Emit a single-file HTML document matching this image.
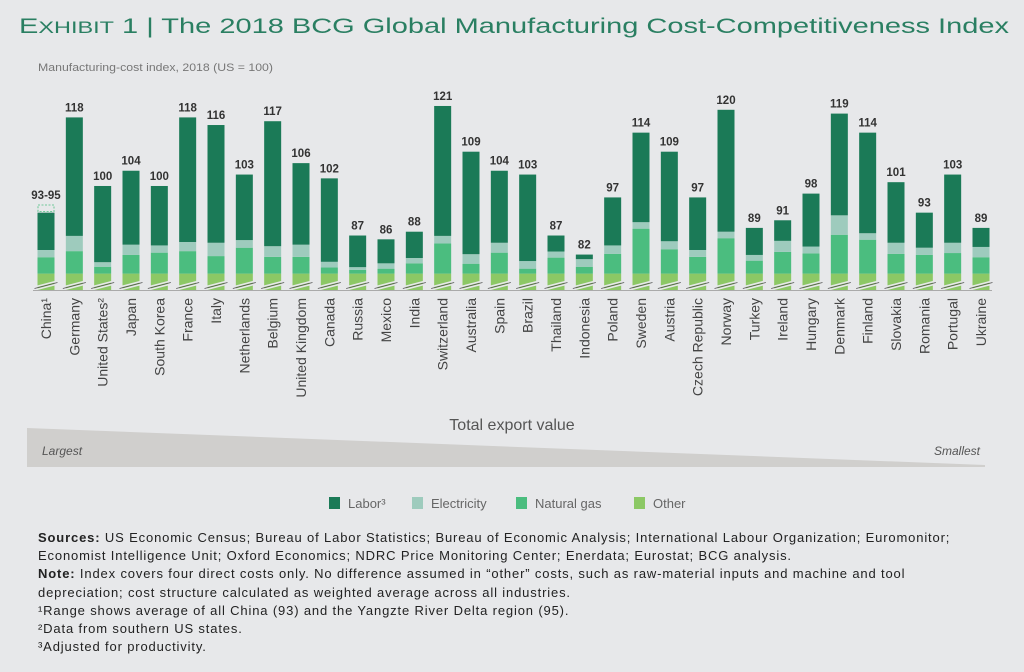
<!DOCTYPE html>
<html><head><meta charset="utf-8">
<style>
html,body{margin:0;padding:0;background:#e7e8ea;}
body{width:1024px;height:672px;overflow:hidden;font-family:"Liberation Sans",sans-serif;}
svg{display:block;}
.notes{position:absolute;left:38px;top:529px;width:980px;white-space:nowrap;font-size:13px;letter-spacing:0.85px;line-height:18.2px;color:#222;}
.notes b{font-weight:bold;}
</style></head>
<body>
<svg id="chart" width="1024" height="672" viewBox="0 0 1024 672" xmlns="http://www.w3.org/2000/svg">
<text x="19" y="33" font-size="21" fill="#2a7f62" textLength="990" lengthAdjust="spacingAndGlyphs" font-family="Liberation Sans, sans-serif">E<tspan font-size="17">XHIBIT</tspan> 1 | The 2018 BCG Global Manufacturing Cost-Competitiveness Index</text>
<text x="38" y="71" font-size="11" fill="#777" textLength="235" lengthAdjust="spacingAndGlyphs">Manufacturing-cost index, 2018 (US = 100)</text>
<g id="bars"></g>
<line x1="33" y1="290.5" x2="992" y2="290.5" stroke="#aaa" stroke-width="1"/>
<text x="512" y="430" font-size="16" fill="#555" text-anchor="middle">Total export value</text>
<polygon points="27,428 985,465 985,467 27,467" fill="#d0cfcd"/>
<text x="42" y="455" font-size="12" font-style="italic" fill="#555">Largest</text>
<text x="980" y="455" font-size="12" font-style="italic" fill="#555" text-anchor="end">Smallest</text>
<g font-size="13" fill="#666">
<rect x="329" y="497" width="11" height="12" fill="#1b7a57"/>
<text x="348" y="508">Labor³</text>
<rect x="412" y="497" width="11" height="12" fill="#9ecbbd"/>
<text x="431" y="508">Electricity</text>
<rect x="516" y="497" width="11" height="12" fill="#4bbd7f"/>
<text x="535" y="508">Natural gas</text>
<rect x="634" y="497" width="11" height="12" fill="#8cc865"/>
<text x="653" y="508">Other</text>
</g>
</svg>
<div class="notes">
<b>Sources:</b> US Economic Census; Bureau of Labor Statistics; Bureau of Economic Analysis; International Labour Organization; Euromonitor;<br>
Economist Intelligence Unit; Oxford Economics; NDRC Price Monitoring Center; Enerdata; Eurostat; BCG analysis.<br>
<b>Note:</b> Index covers four direct costs only. No difference assumed in “other” costs, such as raw-material inputs and machine and tool<br>
depreciation; cost structure calculated as weighted average across all industries.<br>
¹Range shows average of all China (93) and the Yangzte River Delta region (95).<br>
²Data from southern US states.<br>
³Adjusted for productivity.
</div>
<script>
const categories = ["China¹","Germany","United States²","Japan","South Korea","France","Italy","Netherlands","Belgium","United Kingdom","Canada","Russia","Mexico","India","Switzerland","Australia","Spain","Brazil","Thailand","Indonesia","Poland","Sweden","Austria","Czech Republic","Norway","Turkey","Ireland","Hungary","Denmark","Finland","Slovakia","Romania","Portugal","Ukraine"];
const totals = [93,118,100,104,100,118,116,103,117,106,102,87,86,88,121,109,104,103,87,82,97,114,109,97,120,89,91,98,119,114,101,93,103,89];
const totalLabels = ["93-95","118","100","104","100","118","116","103","117","106","102","87","86","88","121","109","104","103","87","82","97","114","109","97","120","89","91","98","119","114","101","93","103","89"];
const other = [77,77,77,77,77,77,77,77,77,77,77,77,77,77,77,77,77,77,77,77,77,77,77,77,77,77,77,77,77,77,77,77,77,77];
const gas = [4.3,5.9,1.8,4.9,5.5,5.9,4.6,6.8,4.4,4.4,1.6,1.0,1.3,2.7,7.9,2.6,5.5,1.3,4.2,1.8,5.2,11.8,6.4,4.4,9.3,3.4,5.7,5.3,10.2,8.9,5.2,4.9,5.4,4.3];
const electricity = [1.9,4.0,1.2,2.7,1.9,2.4,3.5,2.0,2.8,3.2,1.5,0.7,1.4,1.4,2.0,2.5,2.6,2.0,1.6,2.0,2.2,1.7,2.1,1.8,1.7,1.5,2.9,1.8,5.1,1.7,2.9,1.9,2.7,2.7];
const chinaRangeTop = 95;

const NS = "http://www.w3.org/2000/svg";
const axisBreak = 72.7, baseY = 290, pxPerUnit = 3.81;
function y(v){ return baseY - (v - axisBreak) * pxPerUnit; }
function xCenter(i){ return 46 + i * ((981 - 46) / (categories.length - 1)); }
const barW = 17;
const g = document.getElementById("bars");
function mk(tag, attrs){ const e = document.createElementNS(NS, tag); for (const k in attrs) e.setAttribute(k, attrs[k]); g.appendChild(e); return e; }

categories.forEach((c, i) => {
  const xc = xCenter(i), x0 = xc - barW / 2;
  const segs = [
    ["other", axisBreak, other[i], "#8cc865"],
    ["gas", other[i], other[i] + gas[i], "#4bbd7f"],
    ["electricity", other[i] + gas[i], other[i] + gas[i] + electricity[i], "#9ecbbd"],
    ["labor", other[i] + gas[i] + electricity[i], totals[i], "#1b7a57"]
  ];
  segs.forEach(s => {
    const r = mk("rect", {x: x0, y: y(s[2]), width: barW, height: Math.max(0, y(s[1]) - y(s[2])), fill: s[3]});
    
    
  });
  const b1 = mk("line", {x1: x0 - 3, y1: 287, x2: x0 + barW + 3, y2: 281, stroke: "#e7e8ea", "stroke-width": 1.6});
  
  
  const b2 = mk("line", {x1: x0 - 3, y1: 290, x2: x0 + barW + 3, y2: 284, stroke: "#e7e8ea", "stroke-width": 1.6});
  
  
  const b3 = mk("line", {x1: x0 - 3, y1: 288.5, x2: x0 + barW + 3, y2: 282.5, stroke: "#555", "stroke-width": 0.8});
  
  
  let topV = totals[i];
  if (i === 0) {
    const d = mk("rect", {x: x0 + 0.5, y: y(chinaRangeTop), width: barW - 1, height: y(totals[0]) - y(chinaRangeTop) - 1, fill: "none", stroke: "#4bbd7f", "stroke-width": 0.8, "stroke-dasharray": "2,1.5"});
    
    
    topV = chinaRangeTop;
  }
  const t = mk("text", {x: xc, y: y(topV) - 6, "font-size": 11.5, "font-weight": "bold", fill: "#333", "text-anchor": "middle"});
  t.textContent = totalLabels[i];
  
  
  const l = mk("text", {x: 0, y: 0, "font-size": 14, fill: "#444", "text-anchor": "end", transform: "translate(" + (xc + 5) + ",298) rotate(-90)"});
  l.textContent = c;
  
  
});
</script>
</body></html>
